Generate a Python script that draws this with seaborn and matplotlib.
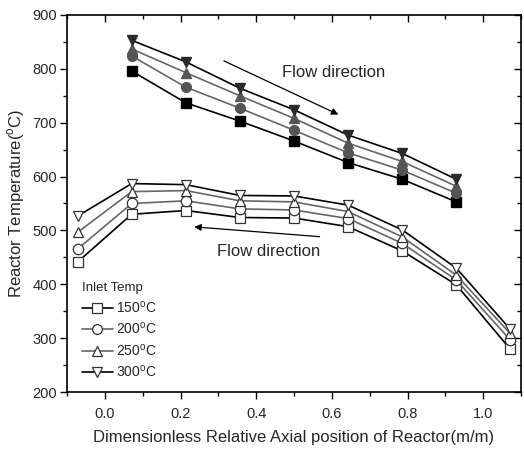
import matplotlib
matplotlib.use("Agg")
import matplotlib.pyplot as plt
import seaborn as sns
import pandas as pd
from matplotlib.ticker import MultipleLocator
from matplotlib.lines import Line2D

sns.set_style("ticks")
plt.rcParams['font.family'] = ['Liberation Sans', 'DejaVu Sans']
plt.rcParams['mathtext.fontset'] = 'custom'
plt.rcParams['mathtext.rm'] = 'Liberation Sans'

inlet_labels = ["150", "200", "250", "300"]

x_upper = [0.071, 0.214, 0.357, 0.5, 0.643, 0.786, 0.929]
up_150 = [796, 737, 703, 666, 626, 595, 553]
up_200 = [824, 766, 727, 686, 644, 612, 569]
up_250 = [837, 793, 750, 708, 662, 628, 582]
up_300 = [853, 813, 764, 724, 677, 643, 595]

x_lower = [-0.071, 0.071, 0.214, 0.357, 0.5, 0.643, 0.786, 0.929, 1.071]
low_150 = [442, 530, 537, 524, 523, 507, 462, 399, 280]
low_200 = [466, 550, 555, 540, 538, 522, 476, 408, 297]
low_250 = [497, 572, 574, 555, 553, 535, 488, 417, 309]
low_300 = [527, 587, 585, 565, 564, 547, 501, 430, 317]

markers = ["s", "o", "^", "v"]
line_colors = ["black", "#666666", "#666666", "black"]
fill_colors = ["black", "#555555", "#555555", "#2a2a2a"]

fig = plt.figure(figsize=(5.24, 4.55), dpi=100)
ax = fig.add_axes([67/524, 63/455, 454/524, 377/455])

ups = [up_150, up_200, up_250, up_300]
lows = [low_150, low_200, low_250, low_300]

for i in range(4):
    df_u = pd.DataFrame({"x": x_upper, "y": ups[i]})
    sns.lineplot(data=df_u, x="x", y="y", ax=ax, color=line_colors[i], lw=1.2,
                 marker=markers[i], markersize=7, markerfacecolor=fill_colors[i],
                 markeredgecolor=fill_colors[i], markeredgewidth=1.0, legend=False,
                 zorder=3 + i)
    df_l = pd.DataFrame({"x": x_lower, "y": lows[i]})
    sns.lineplot(data=df_l, x="x", y="y", ax=ax, color=line_colors[i], lw=1.2,
                 marker=markers[i], markersize=7.5, markerfacecolor="white",
                 markeredgecolor="#333333", markeredgewidth=0.9, legend=False,
                 zorder=3 + i)

ax.set_xlim(-0.1, 1.1)
ax.set_ylim(200, 900)
ax.xaxis.set_major_locator(MultipleLocator(0.2))
ax.xaxis.set_minor_locator(MultipleLocator(0.1))
ax.yaxis.set_major_locator(MultipleLocator(100))
ax.yaxis.set_minor_locator(MultipleLocator(50))
ax.set_xticks([0.0, 0.2, 0.4, 0.6, 0.8, 1.0])
ax.set_xticklabels(["0.0", "0.2", "0.4", "0.6", "0.8", "1.0"])
ax.tick_params(axis="both", which="major", length=5, width=1.0, labelsize=10.5, color="black")
ax.tick_params(axis="both", which="minor", length=3, width=1.0, color="black")
ax.tick_params(axis="x", which="both", direction="out", top=True, pad=6)
ax.tick_params(axis="y", which="both", direction="out", right=True, pad=2)
# top/right ticks inward
for t in ax.xaxis.get_ticklines(minor=False)[1::2] + ax.xaxis.get_ticklines(minor=True)[1::2]:
    t.set_marker(3)
for t in ax.yaxis.get_ticklines(minor=False)[1::2] + ax.yaxis.get_ticklines(minor=True)[1::2]:
    t.set_marker(0)
for s in ax.spines.values():
    s.set_linewidth(1.2)
    s.set_color("black")

ax.set_xlabel("Dimensionless Relative Axial position of Reactor(m/m)", fontsize=12, labelpad=6)
ax.set_ylabel("Reactor Temperature($^\\mathregular{o}$C)", fontsize=12, labelpad=4)

# annotations
ax.annotate("", xy=(0.624, 713), xytext=(0.308, 817),
            arrowprops=dict(arrowstyle="-|>", color="black", lw=0.9, mutation_scale=10))
ax.text(0.604, 793, "Flow direction", fontsize=12, ha="center", va="center")
ax.annotate("", xy=(0.229, 507), xytext=(0.575, 488),
            arrowprops=dict(arrowstyle="-|>", color="black", lw=0.9, mutation_scale=10))
ax.text(0.433, 460, "Flow direction", fontsize=12, ha="center", va="center")

handles = [Line2D([], [], color=line_colors[i], lw=1.2, marker=markers[i], markersize=7,
                  markerfacecolor="white", markeredgecolor="#333333", markeredgewidth=0.9)
           for i in range(4)]
labels = [f"{t}$^\\mathregular{{o}}$C" for t in inlet_labels]
leg = ax.legend(handles, labels, title="Inlet Temp", loc="upper left",
                bbox_to_anchor=(0.012, 0.318), frameon=False, fontsize=10,
                title_fontsize=9.5, handlelength=2.2, handletextpad=0.2,
                labelspacing=0.4, borderaxespad=0.3)
leg._legend_box.align = "left"

fig.savefig("out.png", dpi=100)
